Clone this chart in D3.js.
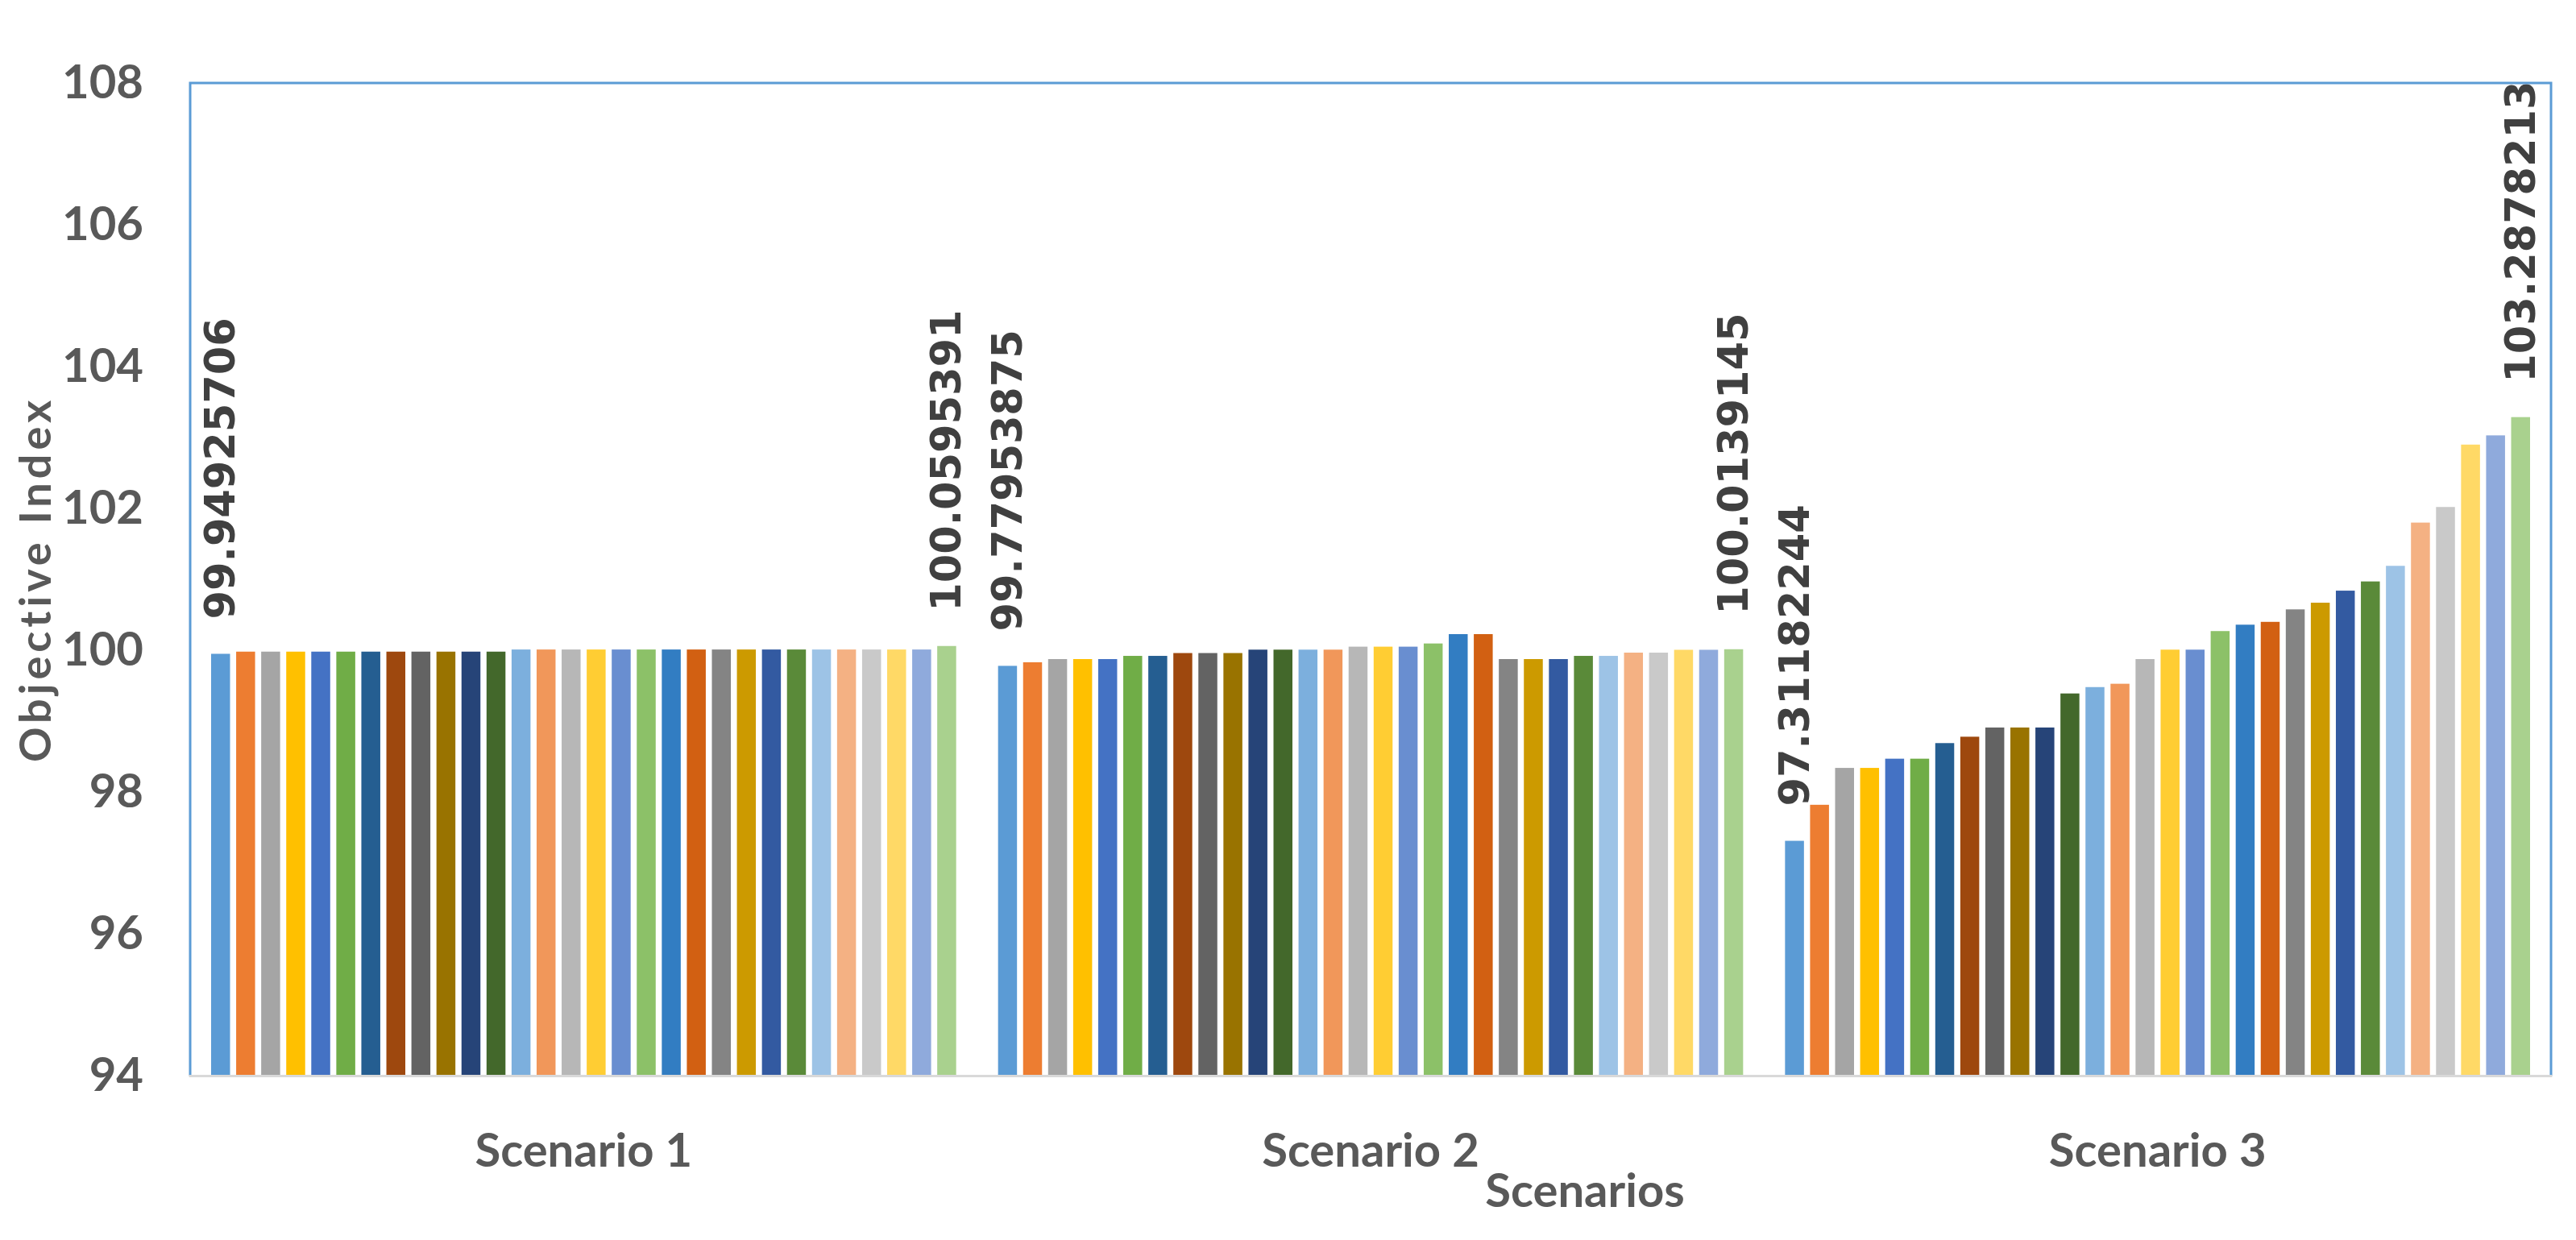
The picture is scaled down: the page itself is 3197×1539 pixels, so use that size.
<!DOCTYPE html>
<html>
<head>
<meta charset="utf-8">
<script src="https://cdn.jsdelivr.net/npm/d3@7"></script>
<style>
  body { margin: 0; background: #ffffff; }
  svg { display: block; }
</style>
</head>
<body>
<div id="chart"></div>
<script>
// Data
const categories = ["Scenario 1", "Scenario 2", "Scenario 3"];

const scenario1 = [99.94925706, 99.98, 99.98, 99.98, 99.98, 99.98, 99.98, 99.98, 99.98, 99.98,
  99.98, 99.98, 100.01, 100.01, 100.01, 100.01, 100.01, 100.01, 100.01, 100.01,
  100.01, 100.01, 100.01, 100.01, 100.01, 100.01, 100.01, 100.01, 100.01, 100.0595391];

const scenario2 = [99.77953875, 99.83, 99.875, 99.875, 99.875, 99.92, 99.92, 99.96, 99.96, 99.96,
  100.008, 100.008, 100.008, 100.008, 100.05, 100.05, 100.05, 100.095, 100.227, 100.227,
  99.875, 99.875, 99.875, 99.92, 99.92, 99.966, 99.966, 100.006, 100.006, 100.0139145];

const scenario3 = [97.31182244, 97.82, 98.34, 98.34, 98.47, 98.47, 98.69, 98.78, 98.91, 98.91,
  98.91, 99.39, 99.48, 99.527, 99.875, 100.008, 100.008, 100.27, 100.36, 100.40,
  100.576, 100.67, 100.84, 100.97, 101.19, 101.80, 102.02, 102.90, 103.03, 103.2878213];

const seriesColors = ["#5b9bd5", "#ed7d31", "#a5a5a5", "#ffc000", "#4472c4", "#70ad47",
  "#255e91", "#9e480e", "#636363", "#997300", "#264478", "#43682b",
  "#7cafdd", "#f1975a", "#b7b7b7", "#ffcd33", "#698ed0", "#8cc168",
  "#327dc2", "#d26012", "#848484", "#cc9a00", "#335aa1", "#5a8a39",
  "#9dc3e6", "#f4b183", "#c9c9c9", "#ffd966", "#8faadc", "#a9d18e"];

const yTicks = [94, 96, 98, 100, 102, 104, 106, 108];
const labelledBars = [0, 29];

const drawChart = () => {

  /*******************************/
  /*    Declare the constants    */
  /*******************************/
  const width = 3197;
  const height = 1539;
  const margin = { top: 103, right: 31, bottom: 204, left: 236 };
  const innerWidth = width - margin.left - margin.right;
  const innerHeight = height - margin.top - margin.bottom;
  const textColor = "#595959";
  const font = "Lato, 'Open Sans', sans-serif";

  const data = categories.map((c, i) => ({
    category: c,
    values: [scenario1, scenario2, scenario3][i]
  }));

  /*******************************/
  /*    Append the containers    */
  /*******************************/
  const svg = d3.select("#chart")
    .append("svg")
    .attr("width", width)
    .attr("height", height)
    .attr("viewBox", `0 0 ${width} ${height}`);

  const innerChart = svg.append("g")
    .attr("transform", `translate(${margin.left}, ${margin.top})`);

  /*******************************/
  /*          Scales             */
  /*******************************/
  const xScale = d3.scaleBand()
    .domain(categories)
    .range([0, innerWidth])
    .padding(0);

  const seriesScale = d3.scaleBand()
    .domain(d3.range(seriesColors.length))
    .range([0, xScale.bandwidth()])
    .paddingInner(0.244)
    .paddingOuter(0.837);

  const yScale = d3.scaleLinear()
    .domain([94, 108])
    .range([innerHeight, 0]);

  /*******************************/
  /*          Bars               */
  /*******************************/
  const groups = innerChart.selectAll(".scenario")
    .data(data)
    .join("g")
    .attr("class", "scenario")
    .attr("transform", d => `translate(${xScale(d.category)}, 0)`);

  groups.selectAll("rect")
    .data(d => d.values)
    .join("rect")
    .attr("x", (d, i) => seriesScale(i))
    .attr("y", d => yScale(d))
    .attr("width", seriesScale.bandwidth())
    .attr("height", d => yScale(94) - yScale(d))
    .attr("fill", (d, i) => seriesColors[i]);

  // value labels on the first and last bar of each scenario
  const fmt = d3.format(".10");
  groups.selectAll(".value-label")
    .data(d => labelledBars.map(i => ({ i, v: d.values[i] })))
    .join("text")
    .attr("class", "value-label")
    .attr("transform", d => `translate(${seriesScale(d.i) + seriesScale.bandwidth() / 2}, ${yScale(d.v) - 43}) rotate(-90)`)
    .attr("text-anchor", "start")
    .attr("dominant-baseline", "central")
    .attr("font-family", "'DejaVu Sans', sans-serif")
    .attr("font-weight", "bold")
    .attr("font-size", 51)
    .attr("fill", "#404040")
    .text(d => fmt(d.v));

  /*******************************/
  /*        Frame & axes         */
  /*******************************/
  innerChart.append("path")
    .attr("d", `M0,${innerHeight} V0 H${innerWidth} V${innerHeight}`)
    .attr("fill", "none")
    .attr("stroke", "#5b9bd5")
    .attr("stroke-width", 3);

  innerChart.append("line")
    .attr("x1", -1.5)
    .attr("x2", innerWidth + 1.5)
    .attr("y1", innerHeight + 0.5)
    .attr("y2", innerHeight + 0.5)
    .attr("stroke", "#d9d9d9")
    .attr("stroke-width", 3);

  const leftAxis = d3.axisLeft(yScale)
    .tickValues(yTicks)
    .tickSize(0)
    .tickPadding(58);

  innerChart.append("g")
    .call(leftAxis)
    .call(g => g.select(".domain").remove())
    .selectAll("text")
    .attr("font-family", font)
    .attr("font-weight", "bold")
    .attr("font-size", 58)
    .attr("fill", textColor);

  const bottomAxis = d3.axisBottom(xScale)
    .tickSize(0)
    .tickPadding(72);

  innerChart.append("g")
    .attr("transform", `translate(0, ${innerHeight})`)
    .call(bottomAxis)
    .call(g => g.select(".domain").remove())
    .selectAll("text")
    .attr("font-family", font)
    .attr("font-weight", "bold")
    .attr("font-size", 58)
    .attr("fill", textColor);

  /*******************************/
  /*        Axis titles          */
  /*******************************/
  svg.append("text")
    .text("Scenarios")
    .attr("x", 1967)
    .attr("y", 1498)
    .attr("text-anchor", "middle")
    .attr("font-family", font)
    .attr("font-weight", "bold")
    .attr("font-size", 58)
    .attr("fill", textColor);

  svg.append("text")
    .text("Objective Index")
    .attr("transform", `translate(63, ${margin.top + innerHeight / 2}) rotate(-90)`)
    .attr("text-anchor", "middle")
    .attr("font-family", font)
    .attr("font-weight", "bold")
    .attr("font-size", 54)
    .attr("letter-spacing", 5)
    .attr("fill", textColor);
};

drawChart();
</script>
</body>
</html>
